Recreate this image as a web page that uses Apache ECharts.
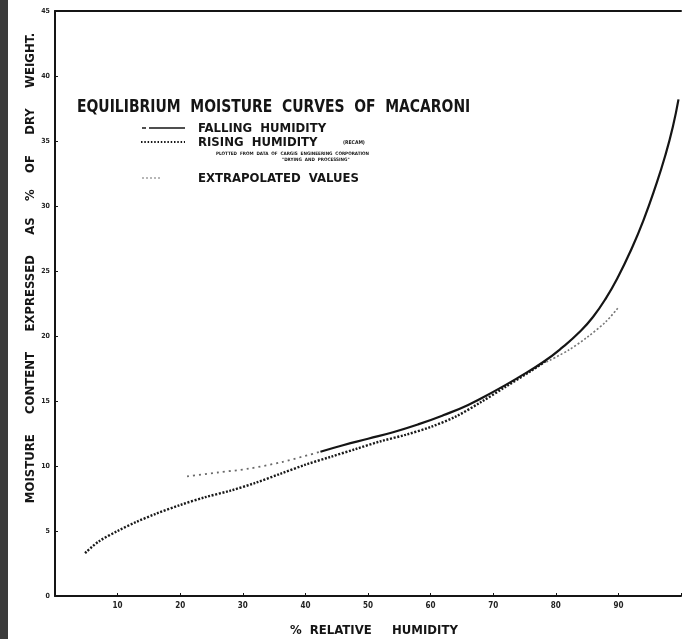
<!DOCTYPE html>
<html><head><meta charset="utf-8">
<script src="https://cdn.jsdelivr.net/npm/echarts@6/dist/echarts.min.js"></script>
<style>html,body{margin:0;padding:0;background:#fff}#c{width:684px;height:639px}</style>
</head><body><div id="c"></div>
<script>
// Falling humidity (solid)
const fallingRH = [42.4, 46, 50, 54, 58, 62, 66, 70, 74, 78, 81, 84, 86, 88, 90, 92, 94, 96, 97.5, 98.7, 99.6];
const fallingMC = [11.1, 11.6, 12.1, 12.6, 13.2, 13.9, 14.7, 15.7, 16.8, 18.0, 19.1, 20.4, 21.5, 22.9, 24.6, 26.6, 28.9, 31.6, 33.9, 36.1, 38.2];
// Rising humidity (dotted)
const risingRH = [4.8, 7, 10, 13, 16, 20, 24, 28, 32, 36, 40, 44, 48, 52, 56, 60, 64, 68, 72, 76, 78.5];
const risingMC = [3.3, 4.2, 5.0, 5.7, 6.3, 7.0, 7.6, 8.1, 8.7, 9.4, 10.1, 10.7, 11.3, 11.9, 12.4, 13.0, 13.8, 14.9, 16.1, 17.3, 18.1];
// Extrapolated values
const extraFallRH = [21.1, 26, 31, 36.2, 42.4];
const extraFallMC = [9.2, 9.5, 9.8, 10.3, 11.1];
const extraRiseRH = [78.5, 82, 85, 88, 90];
const extraRiseMC = [18.0, 18.9, 19.9, 21.1, 22.2];
// Axis ticks
const xTickLabels = [10, 20, 30, 40, 50, 60, 70, 80, 90];
const yTickLabels = [0, 5, 10, 15, 20, 25, 30, 35, 40, 45];

const zip = (a, b) => a.map((v, i) => [v, b[i]]);
const FONT = '"DejaVu Sans Condensed","DejaVu Sans",sans-serif';
const ink = '#151515';

const chart = echarts.init(document.getElementById('c'), null, {renderer: 'canvas'});
chart.setOption({
  backgroundColor: '#ffffff',
  animation: false,
  grid: {left: 55, right: -2, top: 11, bottom: 43, containLabel: false},
  xAxis: [{
    type: 'value', min: 0, max: 100, interval: 10,
    axisLine: {show: true, lineStyle: {color: ink, width: 2}},
    axisTick: {show: true, inside: true, length: 3, lineStyle: {color: ink, width: 1}},
    splitLine: {show: false},
    axisLabel: {
      margin: 6, color: '#222', fontSize: 8, fontFamily: FONT, fontWeight: 'bold',
      formatter: v => (xTickLabels.indexOf(v) >= 0 ? String(v) : '')
    }
  }, {
    type: 'value', min: 0, max: 100, position: 'top',
    axisLine: {show: true, lineStyle: {color: ink, width: 2}},
    axisTick: {show: false}, axisLabel: {show: false}, splitLine: {show: false}
  }],
  yAxis: {
    type: 'value', min: 0, max: 45, interval: 5,
    axisLine: {show: true, lineStyle: {color: ink, width: 2}},
    axisTick: {show: true, inside: true, length: 3, lineStyle: {color: ink, width: 1}},
    splitLine: {show: false},
    axisLabel: {
      margin: 5, color: '#222', fontSize: 7, fontFamily: FONT, fontWeight: 'bold',
      formatter: v => (yTickLabels.indexOf(v) >= 0 ? String(v) : '')
    }
  },
  series: [
    {name: 'FALLING HUMIDITY', type: 'line', data: zip(fallingRH, fallingMC), smooth: 0.5,
     showSymbol: false, lineStyle: {color: ink, width: 2.2}, z: 5},
    {name: 'RISING HUMIDITY', type: 'line', data: zip(risingRH, risingMC), smooth: 0.3,
     showSymbol: false, lineStyle: {color: '#1a1a1a', width: 2.4, type: [2, 1.6]}, z: 4},
    {name: 'EXTRAPOLATED (falling)', type: 'line', data: zip(extraFallRH, extraFallMC), smooth: 0.3,
     showSymbol: false, lineStyle: {color: '#6a6a6a', width: 1.8, type: [2, 4]}, z: 3},
    {name: 'EXTRAPOLATED (rising)', type: 'line', data: zip(extraRiseRH, extraRiseMC), smooth: 0.3,
     showSymbol: false, lineStyle: {color: '#777', width: 1.6, type: [2, 2]}, z: 3}
  ],
  graphic: [
    {type: 'rect', left: 0, top: 0, shape: {width: 8, height: 639}, style: {fill: '#3b3b3b'}},
    // title
    {type: 'text', x: 77, y: 98, scaleX: 0.86, style: {text: 'EQUILIBRIUM  MOISTURE  CURVES  OF  MACARONI', font: 'bold 18px ' + FONT, fill: ink}},
    // legend samples
    {type: 'line', shape: {x1: 142, y1: 128, x2: 146, y2: 128}, style: {stroke: ink, lineWidth: 1.5}},
    {type: 'line', shape: {x1: 149, y1: 128, x2: 185, y2: 128}, style: {stroke: ink, lineWidth: 1.5}},
    {type: 'text', left: 198, top: 122, style: {text: 'FALLING  HUMIDITY', font: 'bold 13px ' + FONT, fill: ink}},
    {type: 'line', shape: {x1: 141, y1: 142, x2: 185, y2: 142}, style: {stroke: ink, lineWidth: 1.8, lineDash: [1.5, 1.8]}},
    {type: 'text', left: 198, top: 136, style: {text: 'RISING  HUMIDITY', font: 'bold 13px ' + FONT, fill: ink}},
    {type: 'text', left: 343, top: 140, style: {text: '(RECAM)', font: 'bold 5px ' + FONT, fill: ink}},
    {type: 'text', left: 216, top: 151, style: {text: 'PLOTTED  FROM  DATA  OF  CARGIS  ENGINEERING  CORPORATION', font: 'bold 4.6px ' + FONT, fill: ink}},
    {type: 'text', left: 282, top: 157, style: {text: '"DRYING  AND  PROCESSING"', font: 'bold 4.6px ' + FONT, fill: ink}},
    {type: 'line', shape: {x1: 142, y1: 178, x2: 160, y2: 178}, style: {stroke: '#888', lineWidth: 1.2, lineDash: [2, 2]}},
    {type: 'text', left: 198, top: 172, style: {text: 'EXTRAPOLATED  VALUES', font: 'bold 13px ' + FONT, fill: ink}},
    // axis titles
    {type: 'text', x: 31, y: 268, rotation: Math.PI / 2,
     style: {text: 'MOISTURE     CONTENT     EXPRESSED     AS    %    OF     DRY     WEIGHT.', font: 'bold 13px ' + FONT, fill: ink, align: 'center', verticalAlign: 'middle'}},
    {type: 'text', left: 290, top: 624, style: {text: '%  RELATIVE     HUMIDITY', font: 'bold 13px ' + FONT, fill: ink}}
  ]
});
</script></body></html>
